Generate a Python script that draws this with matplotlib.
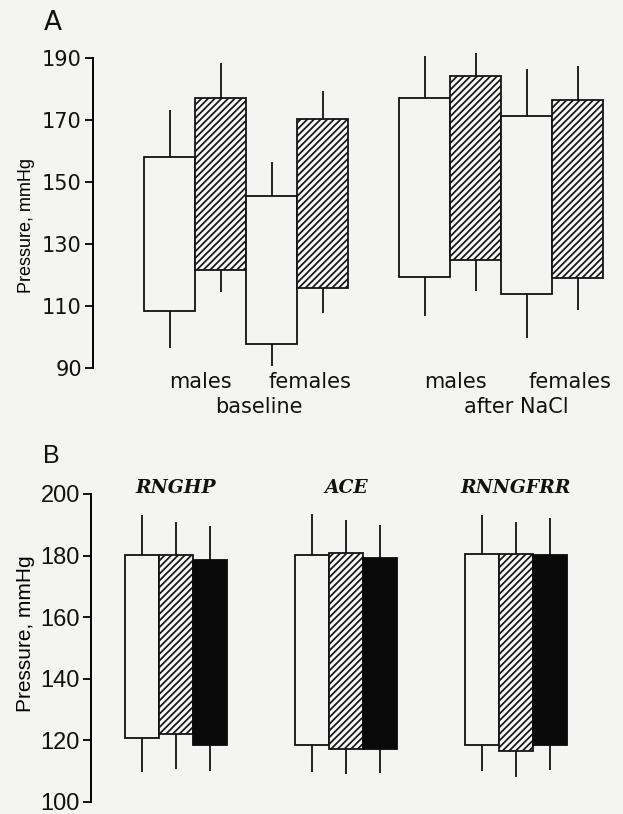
import numpy as np
import matplotlib.pyplot as plt

plt.rcParams['hatch.linewidth'] = 1.25

# --- Panel A: floating bars (diastolic -> systolic), whiskers = SD ---
a_top = [158, 177.2, 145.4, 170.3, 177.2, 184.3, 171.4, 176.4]
a_bottom = [108.4, 121.6, 97.7, 115.9, 119.5, 124.9, 114.0, 118.9]
a_hi = [173.2, 188.3, 156.3, 179.4, 190.6, 191.6, 186.5, 187.5]
a_lo = [96.3, 114.5, 90.5, 107.6, 106.7, 114.9, 99.7, 108.7]
a_hatched = [False, True, False, True, False, True, False, True]
a_sex_labels = ['males', 'females', 'males', 'females']
a_group_labels = ['baseline', 'after NaCl']
a_yticks = [90, 110, 130, 150, 170, 190]

# --- Panel B ---
b_top = [180.3, 180.3, 178.7, 180.3, 180.8, 179.2, 180.6, 180.6, 180.3]
b_bottom = [120.8, 122.2, 118.4, 118.4, 117.3, 117.3, 118.4, 116.7, 118.4]
b_hi = [193.3, 190.8, 189.7, 193.6, 191.5, 190.0, 193.3, 191.0, 192.2]
b_lo = [109.7, 110.8, 110.2, 109.7, 109.1, 109.4, 110.0, 108.0, 110.5]
b_style = ['open', 'hatch', 'solid'] * 3
b_genes = ['RNGHP', 'ACE', 'RNNGFRR']
b_yticks = [100, 120, 140, 160, 180, 200]

bg = '#f4f4f2'
fig = plt.figure(figsize=(6.23, 8.14), dpi=100, facecolor=bg)


def style_axis(ax, ylim, yticks, tick_font, tick_size):
    ax.set_facecolor(bg)
    ax.set_ylim(*ylim)
    ax.set_yticks(yticks)
    for s in ['top', 'right', 'bottom']:
        ax.spines[s].set_visible(False)
    ax.spines['left'].set_linewidth(1.4)
    ax.set_xticks([])
    ax.tick_params(axis='y', direction='out', length=6, width=1.4, pad=2,
                   labelsize=tick_size, colors='#111111')
    for lab in ax.get_yticklabels():
        lab.set_family(tick_font)


def draw_bars(ax, left, top, bottom, hi, lo, styles):
    top = np.array(top)
    bottom = np.array(bottom)
    centers = left + 0.5
    for x, t, b, st in zip(left, top, bottom, styles):
        if st == 'open':
            ax.bar(x, t - b, bottom=b, width=1, align='edge', facecolor=bg,
                   edgecolor='#111111', linewidth=1.3, zorder=3)
        elif st == 'hatch':
            ax.bar(x, t - b, bottom=b, width=1, align='edge', facecolor='#f8f8f8',
                   edgecolor='#151515', hatch='/////', linewidth=1.3, zorder=3)
        else:
            ax.bar(x, t - b, bottom=b, width=1, align='edge', facecolor='#0a0a0a',
                   edgecolor='#0a0a0a', linewidth=1.3, zorder=3)
    ax.vlines(centers, top, hi, color='#111111', linewidth=1.3, zorder=2, clip_on=False)
    ax.vlines(centers, lo, bottom, color='#111111', linewidth=1.3, zorder=2, clip_on=False)


# ---------------- Panel A ----------------
axA = fig.add_axes([0.1493, 0.5479, 0.835, 0.3808])
style_axis(axA, (90, 190), a_yticks, 'DejaVu Sans', 15)
axA.set_xlim(0, 10.2)
idx = np.arange(len(a_top))
a_left = idx + 1 + idx // 4
draw_bars(axA, a_left, a_top, a_bottom, a_hi, a_lo,
          ['hatch' if h else 'open' for h in a_hatched])
axA.set_ylabel('Pressure, mmHg', family='Liberation Sans', fontsize=13, labelpad=0)
axA.yaxis.set_label_coords(-0.112, 0.46)

tr = axA.get_xaxis_transform()
for x, lab in zip([2.1, 4.25, 7.1, 9.35], a_sex_labels):
    axA.text(x, -0.012, lab, transform=tr, ha='center', va='top', fontsize=15,
             family='DejaVu Sans', color='#111111')
for x, lab in zip([3.25, 8.3], a_group_labels):
    axA.text(x, -0.093, lab, transform=tr, ha='center', va='top', fontsize=15,
             family='DejaVu Sans', color='#111111')
fig.text(0.085, 0.972, 'A', fontsize=19, family='DejaVu Sans', va='center', ha='center',
         color='#111111')

# ---------------- Panel B ----------------
axB = fig.add_axes([0.146, 0.0148, 0.8186, 0.3784])
style_axis(axB, (100, 200), b_yticks, 'Liberation Sans', 17)
axB.set_xlim(0, 15)
idx = np.arange(len(b_top))
b_left = 1 + idx % 3 + 5 * (idx // 3)
draw_bars(axB, b_left, b_top, b_bottom, b_hi, b_lo, b_style)
axB.set_ylabel('Pressure, mmHg', family='Liberation Sans', fontsize=15, labelpad=0)
axB.yaxis.set_label_coords(-0.11, 0.545)

for g, lab in enumerate(b_genes):
    axB.text(2.5 + 5 * g, 200.3, lab, ha='center', va='baseline', fontsize=13.5,
             family='DejaVu Serif', style='italic', weight='bold', color='#111111')
fig.text(0.082, 0.44, 'B', fontsize=18, family='Liberation Sans', va='center', ha='center',
         color='#111111')

fig.savefig('out.png', dpi=100, facecolor=bg)
